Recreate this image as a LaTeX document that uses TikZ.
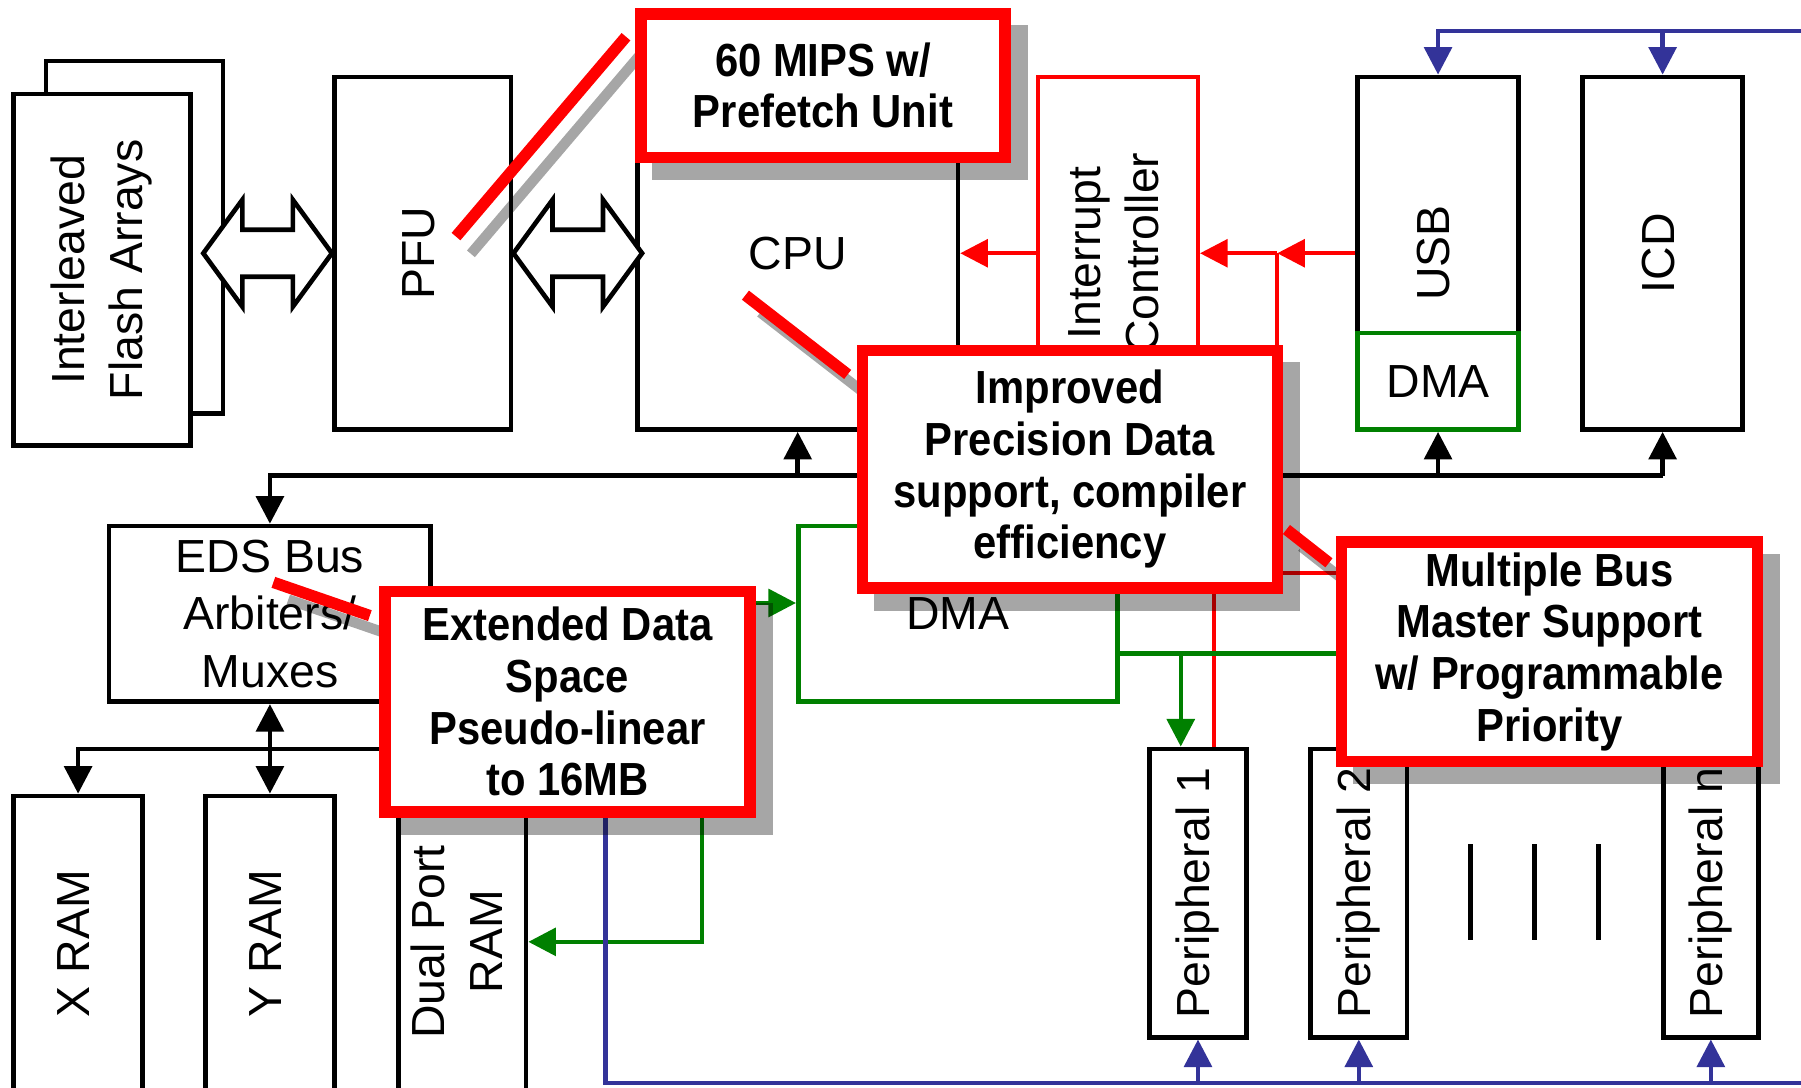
\documentclass[tikz,border=0pt]{standalone}
\usepackage{fontspec}
\setmainfont{Liberation Sans}
\newfontfamily\callfont[FakeStretch=0.9]{Liberation Sans}
\usepackage{graphicx}
\usetikzlibrary{arrows.meta,calc}
\definecolor{busblue}{RGB}{51,51,153}
\definecolor{dmagreen}{RGB}{0,128,0}
\newcommand{\vlab}[1]{\rotatebox{90}{\begin{tabular}{@{}c@{}}#1\end{tabular}}}
\pgfdeclarelayer{shadows}
\pgfdeclarelayer{callouts}
\pgfsetlayers{main,shadows,callouts}

\begin{document}
\begin{tikzpicture}[
  font=\fontsize{11.5}{14.3}\selectfont,
  hd/.tip={Triangle[length=2.4mm,width=2.4mm]},
  blk/.style={draw, line width=1.15pt, inner sep=0pt},
  tall/.style={blk, minimum height=3.07cm},
  ram/.style={blk, minimum width=1.12cm, minimum height=2.57cm},
  periph/.style={blk, minimum width=0.84cm, minimum height=2.51cm},
  arr/.style={-hd, line width=1.1pt},
  barr/.style={arr, black},
  rarr/.style={arr, red, line width=1pt},
  rline/.style={red, line width=1pt},
  garr/.style={arr, dmagreen},
  gline/.style={dmagreen, line width=1.1pt},
  blarr/.style={arr, busblue},
  bline/.style={busblue, line width=1.1pt},
  callout/.style={draw=red, line width=1mm, fill=white, inner sep=0pt, align=center,
    font=\callfont\bfseries\fontsize{11.5}{12.8}\selectfont},
  pointer/.style={red, line width=1mm},
  shd/.style={black, opacity=0.35},
  bigarr/.pic={\draw[line width=1.15pt, fill=white] (0,0) -- (0.34,0.465) -- (0.34,0.205) -- (0.78,0.205)
    -- (0.78,0.465) -- (1.12,0) -- (0.78,-0.465) -- (0.78,-0.205) -- (0.34,-0.205) -- (0.34,-0.465) -- cycle;}
]
\useasboundingbox (0,0) rectangle (15.68,9.47);

\node[tall, minimum width=1.54cm] (flashb) at (1.17,7.405) {};
\node[tall, minimum width=1.54cm, minimum height=3.06cm, fill=white] (flash) at (0.89,7.12) {\vlab{Interleaved\\Flash Arrays}};
\node[tall, minimum width=1.54cm] (pfu) at (3.68,7.265) {\vlab{PFU}};
\node[tall, minimum width=2.79cm] (cpu) at (6.945,7.265) {CPU};
\node[tall, minimum width=1.39cm, draw=red, line width=1pt] (intc) at (9.735,7.265) {\vlab{Interrupt\\Controller}};
\node[tall, minimum width=1.40cm] (usb) at (12.52,7.265) {\vlab{USB}};
\node[blk, draw=dmagreen, fill=white, minimum width=1.40cm, minimum height=0.84cm] (usbdma) at (12.52,6.15) {DMA};
\node[tall, minimum width=1.39cm] (icd) at (14.475,7.265) {\vlab{ICD}};

\node[blk, minimum width=2.80cm, minimum height=1.53cm, align=center] (eds) at (2.35,4.125) {EDS Bus\\Arbiters/\\Muxes};
\node[blk, draw=dmagreen, minimum width=2.78cm, minimum height=1.53cm] (edma) at (8.34,4.125) {DMA};

\node[ram] (xram) at (0.68,1.255) {\vlab{X RAM}};
\node[ram] (yram) at (2.35,1.255) {\vlab{Y RAM}};
\node[ram, minimum width=1.11cm, minimum height=2.60cm] (dpram) at (4.025,1.27) {\vlab{Dual Port\\RAM}};

\node[periph] (per1) at (10.43,1.695) {\vlab{Peripheral 1}};
\node[periph] (per2) at (11.83,1.695) {\vlab{Peripheral 2}};
\node[periph, minimum width=0.83cm] (pern) at (14.895,1.695) {\vlab{Peripheral n}};
\foreach \x in {12.80,13.36,13.92}
  \draw[line width=1.2pt] (\x,2.12) -- (\x,1.29);

\pic at ([xshift=-11.2mm]pfu.west) {bigarr};
\pic at (pfu.east) {bigarr};

\coordinate (bus) at (0,5.33);
\draw[barr] (icd.south |- bus) -- (eds.north |- bus) -- (eds.north);
\foreach \n in {cpu,usbdma,icd}
  \draw[barr] (\n.south |- bus) -- (\n.south);
\draw[barr, hd-hd] (eds.south) -- (yram.north);
\coordinate (xj) at (3.6,2.95);
\draw[barr] (xj) -| (xram.north);

\coordinate (rj) at (11.12,7.265);
\coordinate (rb) at (10.57,4.48);
\draw[rarr] (usb.west) -- (rj);
\draw[rarr] (rj) -- (intc.east);
\draw[rarr] (intc.west) -- (cpu.east);
\draw[rline] (rj) -- (rj |- rb);
\draw[rline] (rb) -- ++(1.6,0);
\draw[rline] (rb) -- (rb |- per1.north);

\coordinate (g1) at (6.0,4.22);
\draw[garr] (g1) -- (g1 -| edma.west);
\coordinate (gj) at (10.28,3.78);
\draw[gline] (edma.east |- gj) -- ++(2.0,0);
\draw[garr] (gj) -- (gj |- per1.north);
\coordinate (g2) at (6.11,2.6);
\draw[garr] (g2) |- (dpram.east);

\coordinate (bt) at (15.8,9.2);
\draw[blarr] (bt) -| (usb.north);
\draw[blarr] (icd.north |- bt) -- (icd.north);
\coordinate (bs) at (5.27,2.5);
\coordinate (bb) at (5.27,0.04);
\draw[bline] (bs) -- (bb) -- (15.8,0.04);
\foreach \n in {per1,per2,pern}
  \draw[blarr] (\n.south |- bb) -- (\n.south);

\begin{pgfonlayer}{callouts}
\node[callout, minimum width=3.17cm, minimum height=1.25cm] (mips) at (7.165,8.725) {60 MIPS w/\\Prefetch Unit};
\node[callout, minimum width=3.61cm, minimum height=2.07cm] (impr) at (9.315,5.385) {Improved\\Precision Data\\support, compiler\\efficiency};
\node[callout, minimum width=3.18cm, minimum height=1.92cm] (ext) at (4.94,3.36) {Extended Data\\Space\\Pseudo-linear\\to 16MB};
\node[callout, minimum width=3.62cm, minimum height=1.91cm] (mbus) at (13.49,3.795) {Multiple Bus\\Master Support\\w/ Programmable\\Priority};
\coordinate (pa1) at (5.45,9.15);  \coordinate (pa2) at (3.97,7.41);
\coordinate (pb1) at (6.49,6.90);  \coordinate (pb2) at (7.38,6.21);
\coordinate (pc1) at (2.38,4.40);  \coordinate (pc2) at (3.22,4.11);
\coordinate (pd1) at (11.20,4.86); \coordinate (pd2) at (11.57,4.57);
\foreach \a/\b in {pa1/pa2,pb1/pb2,pc1/pc2,pd1/pd2}
  \draw[pointer] (\a) -- (\b);
\end{pgfonlayer}

\begin{pgfonlayer}{shadows}
\foreach \n in {mips,impr,ext,mbus}
  \fill[shd] ([shift={(1.5mm,-1.5mm)}]\n.south west) rectangle ([shift={(1.5mm,-1.5mm)}]\n.north east);
\foreach \a/\b in {pa1/pa2,pb1/pb2,pc1/pc2,pd1/pd2}
  \draw[shd, line width=0.9mm] ([shift={(1.3mm,-1.5mm)}]\a) -- ([shift={(1.3mm,-1.5mm)}]\b);
\end{pgfonlayer}
\end{tikzpicture}
\end{document}
